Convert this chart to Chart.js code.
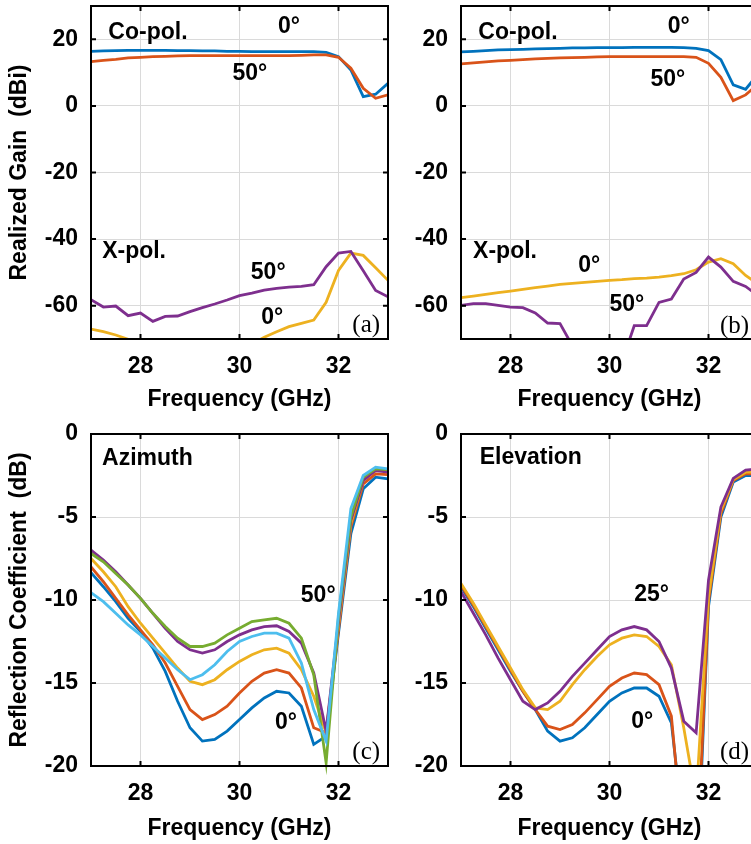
<!DOCTYPE html>
<html>
<head>
<meta charset="utf-8">
<title>Gain and reflection vs frequency</title>
<script src="https://cdn.jsdelivr.net/npm/chart.js@4.4.0/dist/chart.umd.min.js"></script>
<style>
  html, body { margin: 0; padding: 0; background: #fff; overflow: hidden; width: 751px; height: 844px; }
  canvas { position: absolute; }
</style>
</head>
<body>
<canvas id="gainAz" width="400" height="420" style="left:0;top:0"></canvas>
<canvas id="gainEl" width="400" height="420" style="left:370px;top:0"></canvas>
<canvas id="reflAz" width="400" height="424" style="left:0;top:420px"></canvas>
<canvas id="reflEl" width="400" height="424" style="left:370px;top:420px"></canvas>
<script>
// frequency sweep, GHz
const freq = [27, 27.25, 27.5, 27.75, 28, 28.25, 28.5, 28.75, 29, 29.25, 29.5, 29.75, 30,
              30.25, 30.5, 30.75, 31, 31.25, 31.5, 31.75, 32, 32.25, 32.5, 32.75, 33];
const freqTicks = [28, 30, 32];
const gainTicks = [-60, -40, -20, 0, 20];
const reflTicks = [-20, -15, -10, -5, 0];

// (a) realized gain, azimuth scan
const aCo0  = [16.4, 16.5, 16.6, 16.7, 16.7, 16.7, 16.7, 16.6, 16.6, 16.5, 16.5, 16.4, 16.4,
               16.3, 16.3, 16.3, 16.3, 16.3, 16.3, 16.1, 14.8, 10.8, 2.8, 3.5, 6.8];
const aCo50 = [13.3, 13.7, 14.0, 14.4, 14.6, 14.8, 14.9, 15.0, 15.1, 15.1, 15.1, 15.1, 15.1,
               15.1, 15.1, 15.1, 15.1, 15.2, 15.3, 15.3, 14.6, 11.3, 5.3, 2.3, 3.3];
const aX0   = [-67.0, -67.8, -68.8, -70.1, -71.5, -72.8, -73.8, -74.5, -75.0, -75.2, -74.8, -74.0, -73.0,
               -71.5, -69.5, -67.8, -66.3, -65.3, -64.3, -59.0, -49.4, -44.2, -44.9, -48.6, -52.4];
const aX50  = [-58.2, -60.4, -60.1, -63.0, -62.2, -64.7, -63.2, -63.1, -61.8, -60.6, -59.5, -58.3, -57.0,
               -56.2, -55.3, -54.8, -54.4, -54.2, -53.7, -48.3, -44.2, -43.7, -49.5, -55.4, -57.3];

// (b) realized gain, elevation scan
const bCo0  = [16.2, 16.4, 16.6, 16.8, 16.9, 17.0, 17.1, 17.2, 17.3, 17.4, 17.4, 17.5, 17.5,
               17.5, 17.6, 17.6, 17.6, 17.6, 17.5, 17.3, 16.6, 13.9, 6.3, 5.0, 9.5];
const bCo50 = [12.6, 12.9, 13.2, 13.5, 13.7, 13.9, 14.1, 14.3, 14.4, 14.5, 14.6, 14.7, 14.8,
               14.8, 14.8, 14.8, 14.8, 14.8, 14.8, 14.6, 12.8, 8.6, 1.6, 3.3, 6.5];
const bX0   = [-57.6, -57.1, -56.6, -56.1, -55.6, -55.1, -54.6, -54.1, -53.6, -53.3, -53.0, -52.7, -52.4,
               -52.2, -51.9, -51.7, -51.4, -51.0, -50.4, -49.2, -46.9, -45.9, -47.4, -50.9, -53.5];
const bX50  = [-59.9, -59.4, -59.4, -59.9, -60.4, -60.6, -62.2, -65.2, -65.4, -72.0, -76.0, -78.0, -79.0,
               -77.0, -66.0, -66.0, -59.0, -58.0, -52.0, -50.0, -45.4, -48.4, -52.7, -54.2, -57.0];

// (c) reflection coefficient, azimuth 0..50 deg
const cAz0  = [-8.35, -9.2, -10.1, -11.1, -11.9, -12.9, -14.3, -16.1, -17.7, -18.5, -18.4, -17.9, -17.2,
               -16.5, -15.9, -15.5, -15.6, -16.4, -18.7, -18.2, -12.0, -6.0, -3.3, -2.6, -2.7];
const cAz10 = [-8.0, -8.9, -9.9, -10.9, -11.8, -12.7, -13.8, -15.2, -16.6, -17.2, -16.9, -16.4, -15.6,
               -14.9, -14.4, -14.2, -14.4, -15.3, -17.7, -18.0, -11.8, -5.6, -3.0, -2.4, -2.45];
const cAz20 = [-7.5, -8.3, -9.2, -10.4, -11.4, -12.3, -13.2, -14.1, -14.9, -15.1, -14.8, -14.2, -13.7,
               -13.3, -13.0, -12.9, -13.2, -14.2, -15.8, -18.0, -11.5, -5.4, -2.8, -2.2, -2.2];
const cAz30 = [-7.0, -7.6, -8.3, -9.1, -9.9, -10.8, -11.7, -12.5, -13.0, -13.2, -13.0, -12.5, -12.1,
               -11.8, -11.6, -11.55, -11.9, -12.6, -14.4, -17.9, -11.3, -5.2, -2.8, -2.2, -2.3];
const cAz40 = [-7.2, -7.7, -8.4, -9.1, -9.9, -10.8, -11.6, -12.3, -12.8, -12.8, -12.6, -12.1, -11.7,
               -11.3, -11.2, -11.1, -11.4, -12.3, -14.5, -19.8, -11.0, -5.0, -2.6, -2.1, -2.15];
const cAz50 = [-9.56, -10.1, -10.8, -11.5, -12.1, -12.8, -13.5, -14.2, -14.8, -14.5, -13.9, -13.1, -12.5,
               -12.2, -12.0, -12.0, -12.3, -13.8, -16.6, -18.5, -10.8, -4.5, -2.5, -2.0, -2.1];

// (d) reflection coefficient, elevation 0..25 deg
const dEl0  = [-9.2, -10.4, -11.7, -13.0, -14.3, -15.5, -16.6, -17.9, -18.5, -18.3, -17.7, -16.9, -16.1,
               -15.6, -15.3, -15.3, -15.8, -17.4, -24.0, -28.0, -10.4, -5.0, -2.9, -2.5, -2.5];
const dEl1  = [-9.1, -10.3, -11.6, -12.9, -14.2, -15.5, -16.6, -17.6, -17.8, -17.5, -16.8, -16.0, -15.2,
               -14.7, -14.4, -14.5, -15.1, -17.0, -25.0, -27.0, -10.1, -4.8, -2.8, -2.4, -2.4];
const dEl2  = [-9.0, -10.2, -11.5, -12.8, -14.1, -15.4, -16.5, -16.6, -16.1, -15.1, -14.2, -13.4, -12.7,
               -12.3, -12.1, -12.2, -12.8, -13.9, -17.7, -22.0, -9.8, -4.6, -2.75, -2.3, -2.3];
const dEl25 = [-9.5, -10.8, -12.1, -13.5, -14.8, -16.1, -16.6, -16.2, -15.5, -14.6, -13.8, -13.0, -12.2,
               -11.8, -11.6, -11.8, -12.5, -14.1, -17.3, -18.0, -8.8, -4.4, -2.67, -2.17, -2.1];

const FONT = '"Liberation Sans", Arial, Helvetica, sans-serif';
const SERIF = '"Liberation Serif", "Times New Roman", serif';
const C = {
  blue: '#0072BD', orange: '#D95319', yellow: '#EDB120',
  purple: '#7E2F8E', green: '#77AC30', cyan: '#4DBEEE'
};

function line(vals, color, clip) {
  return {
    data: freq.map((f, i) => ({ x: f, y: vals[i] })),
    borderColor: color,
    borderWidth: 2.8,
    pointRadius: 0,
    fill: false,
    tension: 0,
    clip: clip
  };
}

// axes box with inward tick marks, drawn over the curves
const boxPlugin = {
  id: 'box',
  afterDatasetsDraw(chart) {
    const { ctx, chartArea: a, scales: { x, y } } = chart;
    ctx.save();
    ctx.strokeStyle = '#000';
    ctx.lineWidth = 2;
    ctx.strokeRect(a.left, a.top, a.right - a.left, a.bottom - a.top);
    ctx.beginPath();
    x.ticks.forEach(t => {
      const px = x.getPixelForValue(t.value);
      ctx.moveTo(px, a.bottom); ctx.lineTo(px, a.bottom - 5);
      ctx.moveTo(px, a.top); ctx.lineTo(px, a.top + 5);
    });
    y.ticks.forEach(t => {
      const py = y.getPixelForValue(t.value);
      ctx.moveTo(a.left, py); ctx.lineTo(a.left + 5, py);
      ctx.moveTo(a.right, py); ctx.lineTo(a.right - 5, py);
    });
    ctx.stroke();
    ctx.restore();
  }
};

function notesPlugin(items) {
  return {
    id: 'notes',
    afterDatasetsDraw(chart) {
      const { ctx, scales: { x, y } } = chart;
      ctx.save();
      ctx.fillStyle = '#000';
      ctx.textBaseline = 'middle';
      items.forEach(n => {
        ctx.font = n.serif ? '25px ' + SERIF : 'bold 23px ' + FONT;
        ctx.textAlign = n.align || 'center';
        ctx.fillText(n.text, x.getPixelForValue(n.x), y.getPixelForValue(n.y));
      });
      ctx.restore();
    }
  };
}

const tickFont = { family: FONT, size: 23, weight: 'bold' };

function makePlot(id, cfg) {
  const n = cfg.datasets.length;
  return new Chart(document.getElementById(id), {
    type: 'line',
    data: { datasets: cfg.datasets.map((d, i) => Object.assign(d, { order: n - i })) },
    options: {
      responsive: false,
      animation: false,
      layout: { padding: { left: 0, right: 12, top: cfg.padTop, bottom: 0 } },
      plugins: { legend: { display: false }, tooltip: { enabled: false } },
      scales: {
        x: {
          type: 'linear', min: 27, max: 33,
          afterBuildTicks: s => { s.ticks = freqTicks.map(v => ({ value: v })); },
          afterFit: s => { s.height = cfg.xHeight; s.paddingLeft = 0; s.paddingRight = 0; },
          grid: { color: '#dadada', lineWidth: 1, drawTicks: false },
          border: { display: false },
          ticks: { color: '#000', font: tickFont, padding: 14, maxRotation: 0, callback: v => String(v) },
          title: {
            display: true, text: 'Frequency (GHz)', color: '#000', font: tickFont,
            padding: { top: 0, bottom: cfg.xTitlePad }
          }
        },
        y: {
          type: 'linear', min: cfg.yMin, max: cfg.yMax,
          afterBuildTicks: s => { s.ticks = cfg.yTicks.map(v => ({ value: v })); },
          afterFit: s => { s.width = 91; s.paddingTop = 0; s.paddingBottom = 0; },
          grid: { color: '#dadada', lineWidth: 1, drawTicks: false },
          border: { display: false },
          ticks: { color: '#000', font: tickFont, padding: 13, callback: v => String(v) },
          title: {
            display: !!cfg.yTitle, text: cfg.yTitle || '', color: '#000', font: tickFont,
            padding: { top: 6, bottom: 0 }
          }
        }
      }
    },
    plugins: [boxPlugin, notesPlugin(cfg.notes)]
  });
}

makePlot('gainAz', {
  padTop: 6, xHeight: 81, xTitlePad: 7,
  yMin: -70, yMax: 30, yTicks: gainTicks, yTitle: 'Realized Gain  (dBi)',
  datasets: [
    line(aCo0, C.blue, 0), line(aCo50, C.orange, 0),
    line(aX0, C.yellow, 0), line(aX50, C.purple, 0)
  ],
  notes: [
    { text: 'Co-pol.', x: 28.15, y: 21.9 },
    { text: '0°', x: 31.0, y: 23.7 },
    { text: '50°', x: 30.21, y: 9.6 },
    { text: 'X-pol.', x: 27.87, y: -43.9 },
    { text: '50°', x: 30.58, y: -50.2 },
    { text: '0°', x: 30.66, y: -63.7 },
    { text: '(a)', x: 32.84, y: -65.8, serif: true, align: 'right' }
  ]
});

makePlot('gainEl', {
  padTop: 6, xHeight: 81, xTitlePad: 7,
  yMin: -70, yMax: 30, yTicks: gainTicks,
  datasets: [
    line(bCo0, C.blue, 0), line(bCo50, C.orange, 0),
    line(bX0, C.yellow, 0), line(bX50, C.purple, 0)
  ],
  notes: [
    { text: 'Co-pol.', x: 28.15, y: 21.9 },
    { text: '0°', x: 31.4, y: 23.7 },
    { text: '50°', x: 31.18, y: 7.8 },
    { text: 'X-pol.', x: 27.89, y: -43.9 },
    { text: '0°', x: 29.59, y: -48.1 },
    { text: '50°', x: 30.35, y: -59.8 },
    { text: '(b)', x: 32.23, y: -66.1, serif: true, align: 'left' }
  ]
});

makePlot('reflAz', {
  padTop: 14, xHeight: 78, xTitlePad: 2,
  yMin: -20, yMax: 0, yTicks: reflTicks, yTitle: 'Reflection Coefficient  (dB)',
  datasets: [
    line(cAz0, C.blue, false), line(cAz10, C.orange, false), line(cAz20, C.yellow, false),
    line(cAz30, C.purple, false), line(cAz40, C.green, false), line(cAz50, C.cyan, false)
  ],
  notes: [
    { text: 'Azimuth', x: 28.14, y: -1.5 },
    { text: '50°', x: 31.59, y: -9.76 },
    { text: '0°', x: 30.94, y: -17.4 },
    { text: '(c)', x: 32.84, y: -19.2, serif: true, align: 'right' }
  ]
});

makePlot('reflEl', {
  padTop: 14, xHeight: 78, xTitlePad: 2,
  yMin: -20, yMax: 0, yTicks: reflTicks,
  datasets: [
    line(dEl0, C.blue, 0), line(dEl1, C.orange, 0),
    line(dEl2, C.yellow, 0), line(dEl25, C.purple, 0)
  ],
  notes: [
    { text: 'Elevation', x: 28.41, y: -1.45 },
    { text: '25°', x: 30.85, y: -9.7 },
    { text: '0°', x: 30.66, y: -17.35 },
    { text: '(d)', x: 32.23, y: -19.2, serif: true, align: 'left' }
  ]
});
</script>
</body>
</html>
